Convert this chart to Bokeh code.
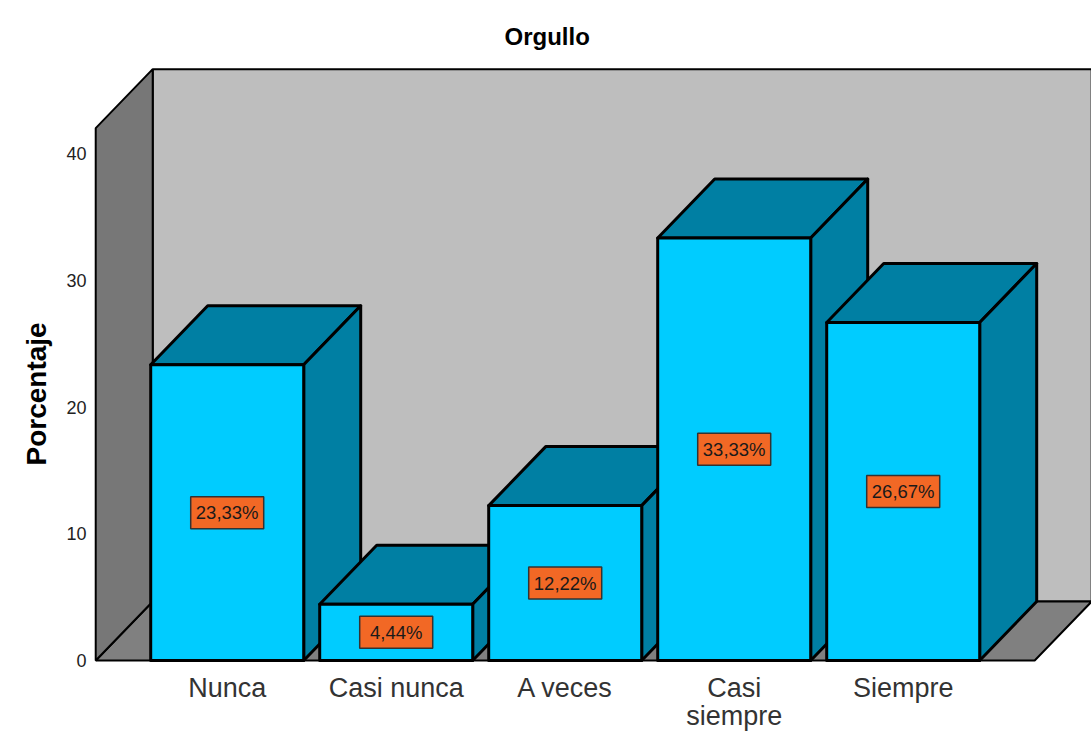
from bokeh.plotting import figure
from bokeh.embed import file_html
from bokeh.resources import INLINE
from bokeh.models import FixedTicker, Range1d, Title
from bokeh.core.properties import value

categories = ["Nunca", "Casi nunca", "A veces", "Casi\nsiempre", "Siempre"]
percentages = [23.33, 4.44, 12.22, 33.33, 26.67]
value_labels = ["23,33%", "4,44%", "12,22%", "33,33%", "26,67%"]
y_ticks = [0, 10, 20, 30, 40]

FONT = "Liberation Sans"
BAR_W = 153 / 169
DX = 57 / 169
DY = 59 / 12.675
WALL_L = -0.778
WALL_R = 4.778
WALL_TOP = 42.0

FIG_H = 741
FRAME_L, FRAME_T, FRAME_R, FRAME_B = 92, 60, 1091, 662
px_x = 169
px_y = 12.675
x0_page = 226.7
y0_page = 660

p = figure(
    width=1091, height=FIG_H, output_backend="svg", toolbar_location=None,
    x_range=Range1d((FRAME_L - x0_page) / px_x, (FRAME_R - x0_page) / px_x),
    y_range=Range1d((y0_page - FRAME_B) / px_y, (y0_page - FRAME_T) / px_y),
    min_border_left=FRAME_L, min_border_right=0,
    min_border_top=FRAME_T, min_border_bottom=FIG_H - FRAME_B,
    background_fill_color="white", border_fill_color="white",
)
p.outline_line_color = None
p.grid.visible = False

p.title.text = "Orgullo"
p.title.text_font = FONT
p.title.text_font_size = "24px"
p.title.text_font_style = "bold"
p.title.text_color = "black"
p.title.vertical_align = "top"
p.title.text_baseline = "bottom"
p.title.align = "left"
p.title.offset = 504 - FRAME_L
p.title.standoff = 18

for ax in (p.xaxis[0], p.yaxis[0]):
    ax.axis_line_color = None
    ax.major_tick_line_color = None
    ax.minor_tick_line_color = None
    ax.major_tick_out = 0
    ax.major_tick_in = 0
    ax.minor_tick_out = 0
    ax.major_label_text_font = FONT

p.yaxis[0].ticker = FixedTicker(ticks=y_ticks)
p.yaxis[0].major_label_text_font_size = "18px"
p.yaxis[0].major_label_text_color = "#222222"
p.yaxis[0].major_label_standoff = 6

p.xaxis[0].ticker = FixedTicker(ticks=list(range(len(categories))))
p.xaxis[0].major_label_overrides = {i: c for i, c in enumerate(categories)}
p.xaxis[0].major_label_text_font_size = "27px"
p.xaxis[0].major_label_text_color = "#333333"
p.xaxis[0].major_label_text_line_height = 0.95
p.xaxis[0].major_label_standoff = 10

# Walls and floor
p.patch([WALL_L + DX, WALL_R + DX, WALL_R + DX, WALL_L + DX],
        [DY, DY, WALL_TOP + DY, WALL_TOP + DY],
        fill_color="#BEBEBE", line_color="black", line_width=2)
p.patch([WALL_L, WALL_R, WALL_R + DX, WALL_L + DX], [0, 0, DY, DY],
        fill_color="#808080", line_color="black", line_width=2)
p.patch([WALL_L, WALL_L + DX, WALL_L + DX, WALL_L], [0, DY, WALL_TOP + DY, WALL_TOP],
        fill_color="#777777", line_color="black", line_width=2)

# Bars, left to right: each one covers the side of the one before it
xs, ys, colors = [], [], []
half = BAR_W / 2
for i, v in enumerate(percentages):
    l, r = i - half, i + half
    xs += [[l, r, r + DX, l + DX], [r, r + DX, r + DX, r], [l, r, r, l]]
    ys += [[v, v, v + DY, v + DY], [0, DY, v + DY, v], [0, 0, v, v]]
    colors += ["#007FA3", "#007FA3", "#00CCFF"]
p.patches(xs, ys, fill_color=colors, line_color="black", line_width=3, line_join="round")

# Value labels
cx = list(range(len(percentages)))
cy = [v / 2 for v in percentages]
p.rect(cx, cy, width=73, height=32, width_units="screen", height_units="screen",
       fill_color="#F26825", line_color="#333333", line_width=1.5)
p.text(cx, cy, text=value_labels, text_align="center", text_baseline="middle",
       text_font=value(FONT), text_font_size="18.5px", text_color="#1a1a1a")

ylab = Title(text="Porcentaje", align="left", offset=FRAME_B - 465, standoff=20, vertical_align="top",
             text_baseline="bottom",
             text_font=FONT, text_font_size="28px", text_font_style="bold", text_color="black")
p.add_layout(ylab, "left")

open("out.html", "w").write(file_html(p, INLINE))
